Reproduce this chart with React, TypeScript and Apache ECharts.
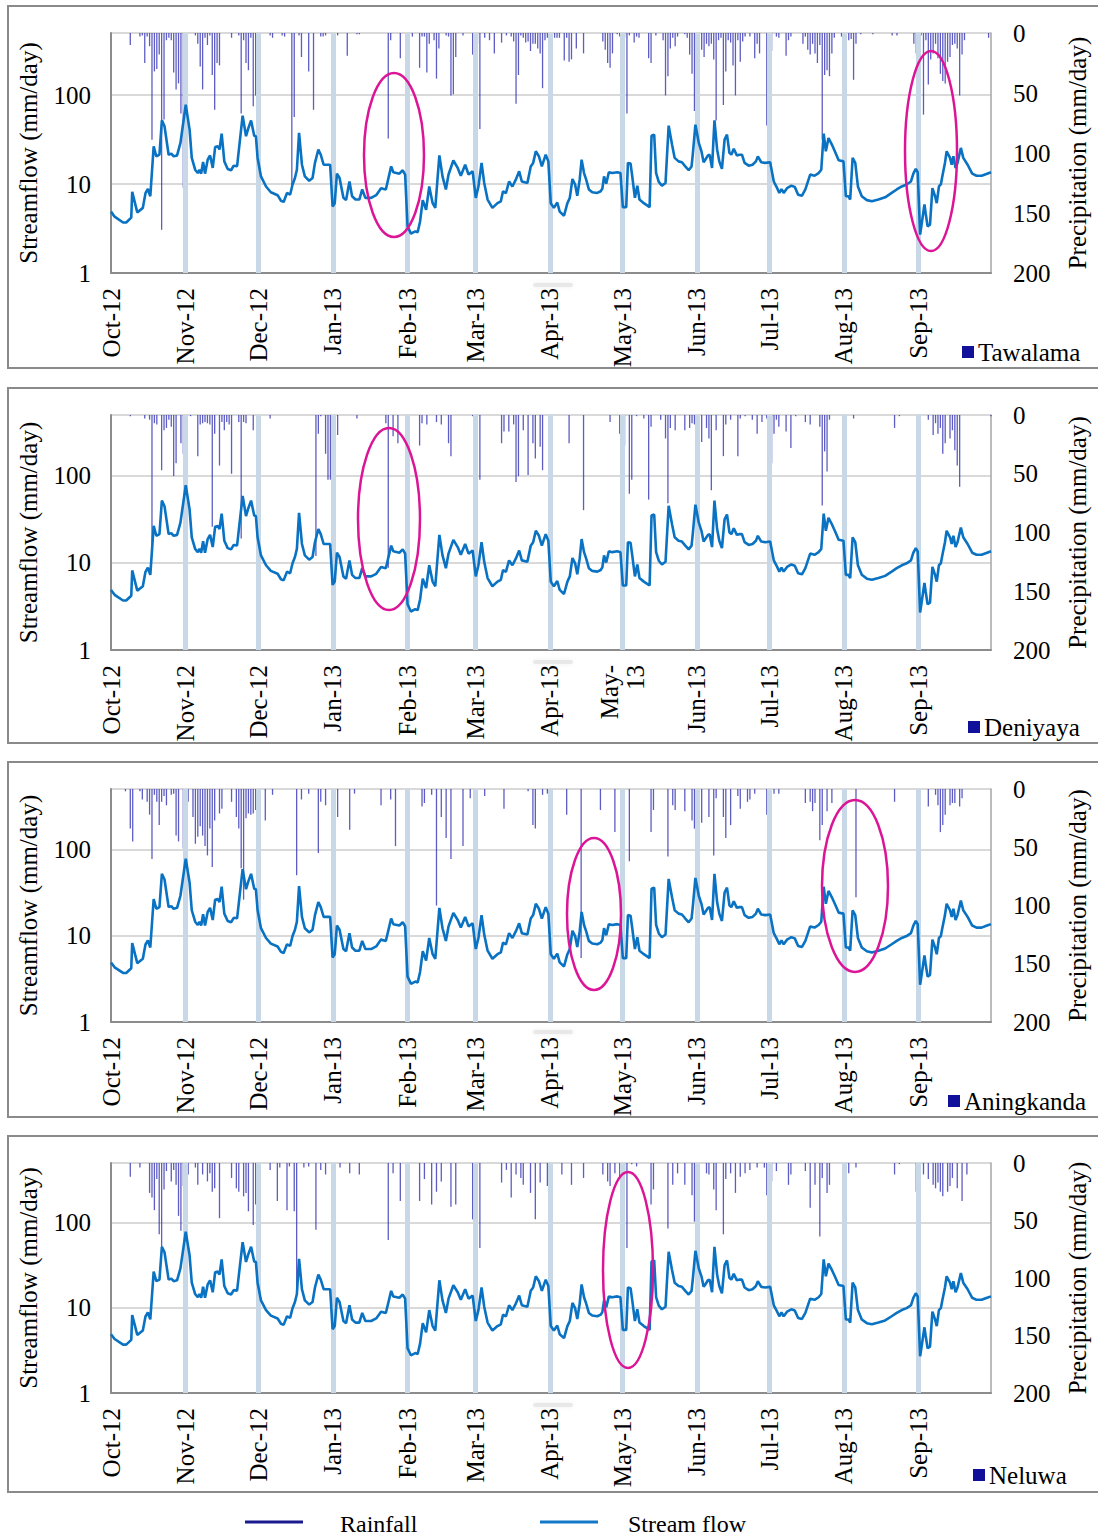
import React, { useEffect, useRef } from "react";
import * as echarts from "echarts";

const SERIF = '"Liberation Serif", "Times New Roman", serif';
const FS = 25;

// x axis: days since 1 Oct 2012
const MONTH_DAYS = [0, 31, 61, 92, 123, 151, 182, 212, 243, 273, 304, 335];
const MONTH_LABELS = ["Oct-12", "Nov-12", "Dec-12", "Jan-13", "Feb-13", "Mar-13", "Apr-13", "May-13", "Jun-13", "Jul-13", "Aug-13", "Sep-13"];
const BAND_DAYS = [31, 61, 92, 123, 151, 182, 212, 243, 273, 304, 335];
const FLOW_TICKS = [1, 10, 100];

const STATIONS = ["Tawalama", "Deniyaya", "Aningkanda", "Neluwa"];

// Stream flow (mm/day), [day, value]
const FLOW: number[][] = [
  [0, 4.9], [1.5, 4.3], [5, 3.7], [6.3, 3.7], [8.4, 4.2], [8.8, 8.2], [10.9, 4.8], [13.2, 5.4], [14.3, 7.9], [15.3, 8.8], [16.3, 7.3], [17.7, 26.6], [18.8, 20.5], [20.1, 21.4], [21.1, 52], [22.2, 44.7], [23.9, 21.4], [25, 22], [26, 20.5], [27.4, 21], [28.8, 29], [31, 78], [32.6, 41], [33.5, 19.7], [34.9, 14.5], [36, 13.3], [36.7, 14.5], [37.4, 13.1], [38.2, 17.7], [39, 13.1], [40.1, 18.8], [41.1, 21], [42.2, 15.2], [43.2, 26.1], [44.3, 26.6], [45, 24.5], [45.9, 36.9], [47, 18], [48.4, 14.8], [49.8, 14.3], [50.9, 16.1], [52.3, 15.9], [53.5, 31.6], [54.6, 58.9], [56, 34.5], [57, 42.8], [58.1, 52], [59.4, 35], [60.1, 34.5], [60.8, 19.7], [62.2, 12.2], [64.3, 9.4], [66.3, 8.1], [69.1, 7.5], [70.5, 6.5], [71.6, 6.3], [73, 7.95], [74.3, 7.6], [75.3, 9.9], [76.3, 11.7], [77.1, 14.5], [78, 37.6], [79.2, 16.5], [80.4, 12.2], [82.2, 10.9], [83.6, 11.7], [84.6, 17.3], [86, 24.5], [87, 21.4], [88.2, 16.5], [90.9, 16.5], [91.9, 5.6], [92.8, 6.1],
  [93.7, 13.1], [94.8, 11.7], [96.4, 7], [97.5, 6.6], [98.9, 10.7], [100, 7.3], [101.4, 6.7], [103, 6.7], [104.2, 8.7], [105.5, 7], [107.9, 7], [110, 7.5], [112, 9], [114, 8.7], [116.2, 15.8], [117.1, 13.6], [119.6, 13.1], [121, 14.3], [122, 12.8], [123, 3.35], [124.4, 2.77], [126.2, 2.94], [127.2, 2.87], [128.2, 3.8], [129.3, 6.6], [130.7, 5.15], [132, 9.4], [133.4, 6.1], [134.5, 5.4], [136.2, 21], [137.5, 12.2], [138.9, 8.7], [140, 12.8], [142, 18.4], [143.8, 15.2], [145.1, 12.4], [146.9, 16.5], [148.3, 12.8], [150, 13.9], [151.3, 7], [152.4, 9.4], [153.7, 17.3], [154.8, 10.3], [156.2, 6.7], [158.2, 5.4], [160.3, 6.1], [161.7, 6.4], [162.6, 8.3], [163.8, 7.9], [165.1, 10.7], [166.5, 9.4], [167.9, 11.2], [169.3, 13.9], [170.4, 10.7], [172.7, 10.3], [174.1, 15.8], [175.1, 17.3], [176.2, 23.4], [177.5, 20.5], [178.7, 15.8], [180.3, 21.4], [181.4, 18], [182.4, 6.1], [183.7, 5.4],
  [185.1, 6.2], [186.1, 4.9], [187.9, 4.4], [189.3, 6.1], [190.3, 7], [191.4, 11.4], [192.5, 9.9], [193.4, 7.4], [194.4, 11.2], [195.2, 18.8], [196.2, 13.3], [197.1, 11.2], [198.2, 8.7], [199.6, 8.1], [201.7, 7.95], [203.1, 8.3], [203.8, 8.9], [204.5, 12.2], [205.4, 10.1], [206.5, 13.6], [207.9, 13.3], [210, 13.6], [211.3, 13.3], [212.3, 5.5], [213.7, 5.5], [214.4, 17.3], [215.5, 17], [216.2, 12.2], [217.3, 7], [218.3, 9.6], [219.2, 6.7], [221, 6.1], [223.4, 5.5], [224.2, 35], [225.3, 36], [226.1, 13.3], [227.2, 10.6], [228.5, 9.6], [230, 10.3], [231.3, 45.4], [232.7, 27.8], [233.8, 19.7], [235.4, 18], [236.8, 17.6], [238.2, 15.8], [239.6, 14.3], [240.8, 15.8], [241.3, 21.4], [242.4, 46.6], [243.8, 29], [244.9, 23.4], [245.8, 17.6], [246.5, 18.8], [247.6, 21], [248.3, 21.4], [249.3, 15.2], [250.3, 52], [251.4, 24.5], [252.3, 18], [253.4, 14.8], [254.5, 31.6], [255.5, 36], [256.5, 22.5], [257.3, 21.4], [258.3, 25], [259.6, 21], [260.6, 21.4], [261.7, 21.4], [262.8, 17.3], [264.5, 16.1], [266.1, 16.5], [267.5, 18], [268.3, 20.5], [269.7, 17.6], [271.4, 17.3], [273.4, 17.6],
  [274.9, 10.7], [276.3, 9], [277.2, 7.95], [278.1, 8.8], [279, 7.95], [280.4, 9], [282.2, 9.6], [283.6, 9.3], [285, 7.6], [286.6, 7.4], [288, 8.7], [290, 12.8], [291.8, 12.4], [293.5, 13.3], [294.6, 14.5], [295.6, 36.9], [296.5, 23.4], [297.6, 33], [299, 27.8], [300.4, 22.8], [301.8, 18.5], [303.8, 18], [304.8, 7.3], [305.9, 7.3], [306.6, 6.7], [307.6, 19.7], [308.7, 17.3], [309.8, 9.4], [311.4, 7.3], [313.5, 6.6], [315.6, 6.4], [318.3, 6.7], [321.1, 7.1], [323.8, 7.95], [325.9, 8.7], [328, 9.4], [330, 9.9], [331.8, 10.7], [332.8, 13.1], [333.8, 14.8], [334.6, 13.6], [335.6, 2.7], [336.3, 3.65], [337.4, 5.9], [337.9, 4.7], [338.7, 3.35], [339.7, 3.5], [340.7, 9], [341.8, 7.3], [342.5, 6.1], [343.4, 9.4], [344.2, 9.9], [344.8, 12.2], [345.9, 17.3], [346.6, 23.4], [348, 19.7], [348.7, 16.5], [349.4, 20.5], [350.3, 15.2], [351.1, 17.3], [352.5, 25.5], [353.5, 19.7], [355.3, 16.5], [357.2, 13.1], [359, 12.4], [361.1, 12.4], [363.1, 13], [365, 13.6],
];

// Daily rainfall (mm/day), [day, value]
const RAIN_TAWALAMA: number[][] = [
  [8, 10], [12, 3], [13, 2], [14, 25], [15, 3], [16, 11], [17, 89], [18, 32], [19, 30], [20, 18], [21, 164], [22, 72], [23, 6], [24, 4], [25, 6], [26, 33], [27, 47], [28, 42], [29, 67], [30, 129], [31, 28], [35, 2], [36, 9], [37, 28], [38, 47], [39, 4], [40, 10], [41, 2], [42, 35], [43, 64], [44, 25], [45, 27], [50, 4], [53, 2], [54, 67], [55, 6], [56, 25], [57, 31], [58, 4], [59, 61], [60, 52], [66, 2], [67, 4], [71, 2], [72, 3], [75, 127], [76, 70], [78, 2], [79, 20], [82, 32], [84, 64], [87, 3], [88, 3], [89, 2], [92, 4], [93, 3], [94, 2], [98, 19], [102, 1], [103, 1], [115, 88], [116, 6], [120, 21], [125, 3], [128, 29], [129, 3], [130, 3], [131, 33], [132, 9], [134, 6], [135, 38], [136, 13], [139, 2], [140, 3], [141, 52], [142, 51], [143, 20], [146, 2], [150, 18], [151, 6], [152, 9], [153, 80], [155, 4], [157, 6], [159, 17], [162, 8], [164, 2], [166, 3], [167, 7], [168, 59], [169, 35], [170, 2], [171, 4], [172, 8], [173, 7], [174, 15], [175, 9], [176, 9], [177, 13], [178, 17], [179, 46], [180, 6], [181, 4], [182, 1], [184, 4], [185, 4], [186, 4], [188, 23], [189, 4], [190, 24], [191, 22], [193, 13], [196, 17], [204, 7], [205, 14], [206, 25], [207, 29], [208, 17], [210, 1], [211, 3], [212, 60], [213, 4], [214, 67], [215, 2], [217, 8], [218, 3], [219, 4], [223, 21], [224, 25], [226, 2], [229, 6], [230, 52], [231, 36], [232, 13], [233, 4], [234, 11], [235, 3], [238, 1], [239, 4], [240, 18], [241, 34], [242, 65], [243, 57], [244, 9], [245, 14], [246, 20], [247, 9], [248, 11], [249, 9], [250, 22], [251, 73], [252, 6], [253, 4], [254, 60], [255, 32], [256, 6], [257, 8], [258, 27], [259, 52], [260, 6], [261, 24], [262, 7], [263, 3], [265, 3], [267, 21], [268, 9], [269, 17], [272, 77], [273, 9], [274, 15], [276, 3], [277, 4], [280, 19], [281, 6], [282, 3], [287, 9], [288, 3], [289, 14], [290, 18], [291, 9], [292, 17], [293, 25], [294, 10], [295, 89], [296, 35], [297, 31], [298, 36], [299, 17], [300, 4], [303, 3], [304, 9], [305, 4], [306, 6], [307, 5], [308, 39], [309, 9], [311, 1], [316, 1], [324, 2], [326, 2], [333, 9], [334, 17], [336, 2], [337, 68], [338, 6], [339, 43], [340, 22], [341, 17], [342, 9], [343, 21], [344, 34], [345, 40], [346, 42], [347, 24], [348, 20], [349, 10], [350, 9], [351, 13], [352, 52], [353, 18], [354, 6], [364, 4],
];

const RAIN_DENIYAYA: number[][] = [
  [8, 1], [14, 3], [16, 4], [17, 110], [18, 7], [19, 8], [21, 47], [22, 13], [23, 11], [24, 4], [25, 10], [26, 52], [27, 41], [29, 24], [30, 33], [31, 7], [33, 1], [36, 35], [37, 8], [38, 7], [39, 6], [40, 7], [41, 8], [42, 95], [43, 16], [45, 43], [46, 6], [47, 13], [48, 6], [49, 8], [50, 50], [53, 6], [54, 105], [55, 6], [56, 7], [59, 13], [66, 3], [85, 120], [86, 16], [87, 1], [89, 33], [90, 55], [91, 55], [92, 50], [93, 67], [94, 17], [102, 3], [114, 7], [115, 130], [117, 18], [119, 24], [128, 26], [129, 7], [131, 8], [135, 6], [137, 8], [140, 24], [141, 35], [150, 1], [151, 38], [153, 55], [162, 24], [163, 14], [165, 14], [167, 8], [168, 57], [169, 52], [171, 13], [173, 51], [175, 24], [176, 37], [178, 27], [179, 47], [190, 24], [196, 81], [207, 6], [211, 16], [212, 16], [213, 26], [215, 67], [216, 55], [218, 1], [221, 3], [223, 72], [224, 10], [228, 4], [230, 20], [231, 75], [232, 11], [234, 13], [238, 13], [240, 11], [241, 7], [242, 8], [243, 41], [244, 38], [245, 23], [247, 11], [248, 20], [249, 64], [251, 13], [254, 35], [255, 8], [257, 4], [260, 35], [261, 3], [263, 1], [266, 4], [268, 16], [270, 6], [272, 3], [274, 41], [275, 16], [276, 4], [277, 10], [280, 14], [282, 28], [284, 1], [288, 6], [290, 8], [294, 10], [295, 77], [296, 31], [297, 48], [298, 4], [308, 3], [325, 11], [327, 1], [339, 4], [341, 17], [342, 7], [343, 16], [344, 11], [345, 33], [346, 24], [348, 20], [349, 13], [350, 30], [351, 43], [352, 61], [365, 1],
];

const RAIN_ANINGKANDA: number[][] = [
  [6, 2], [8, 34], [9, 45], [12, 2], [13, 9], [15, 11], [16, 22], [17, 60], [18, 5], [19, 11], [20, 31], [21, 11], [22, 6], [23, 14], [25, 5], [26, 4], [27, 40], [28, 45], [30, 51], [31, 19], [32, 11], [34, 24], [35, 47], [36, 41], [37, 32], [38, 40], [39, 49], [40, 57], [41, 34], [42, 67], [43, 27], [45, 21], [46, 17], [50, 11], [52, 24], [53, 34], [54, 68], [55, 95], [56, 25], [57, 21], [58, 22], [59, 21], [60, 18], [64, 27], [67, 5], [77, 74], [79, 9], [82, 4], [86, 55], [87, 11], [89, 14], [93, 31], [94, 24], [99, 35], [101, 4], [112, 14], [116, 9], [118, 49], [129, 15], [130, 12], [133, 5], [135, 100], [137, 24], [139, 42], [141, 60], [146, 49], [149, 8], [151, 6], [155, 6], [163, 17], [173, 2], [175, 31], [176, 34], [179, 5], [181, 4], [189, 22], [195, 145], [203, 18], [209, 37], [212, 9], [215, 62], [224, 37], [225, 18], [231, 58], [233, 14], [234, 18], [238, 19], [241, 27], [242, 34], [243, 34], [245, 29], [248, 24], [250, 57], [251, 8], [254, 24], [255, 42], [257, 31], [260, 6], [261, 17], [264, 11], [265, 9], [267, 4], [272, 22], [275, 4], [277, 4], [288, 12], [290, 11], [291, 19], [292, 12], [294, 44], [295, 31], [297, 19], [299, 12], [309, 93], [325, 11], [339, 15], [342, 5], [343, 14], [344, 37], [345, 31], [346, 22], [348, 14], [349, 12], [350, 12], [352, 15], [353, 8],
];

const RAIN_NELUWA: number[][] = [
  [8, 12], [12, 4], [16, 26], [17, 30], [18, 41], [19, 14], [20, 62], [21, 74], [22, 23], [23, 7], [25, 16], [26, 6], [27, 19], [28, 46], [29, 59], [30, 20], [32, 10], [35, 4], [36, 19], [38, 10], [40, 16], [41, 9], [42, 25], [43, 22], [45, 48], [50, 13], [52, 22], [53, 25], [55, 29], [56, 26], [57, 42], [59, 54], [60, 36], [66, 6], [69, 33], [70, 4], [73, 41], [74, 3], [76, 42], [77, 110], [80, 4], [82, 3], [85, 58], [87, 6], [89, 10], [93, 38], [95, 4], [99, 9], [103, 10], [115, 67], [117, 9], [120, 33], [128, 33], [130, 14], [133, 36], [135, 25], [137, 16], [141, 38], [143, 36], [150, 49], [151, 13], [153, 74], [162, 17], [164, 6], [166, 30], [168, 10], [170, 13], [171, 19], [174, 26], [176, 49], [178, 17], [181, 20], [182, 13], [187, 10], [191, 19], [196, 13], [204, 10], [206, 16], [207, 20], [209, 9], [211, 13], [213, 9], [214, 74], [216, 1], [218, 3], [224, 36], [225, 23], [231, 57], [233, 19], [235, 9], [238, 19], [241, 28], [242, 51], [243, 49], [244, 39], [247, 9], [248, 10], [250, 23], [251, 41], [254, 62], [255, 14], [257, 9], [259, 26], [261, 12], [263, 9], [265, 6], [268, 4], [271, 4], [272, 28], [274, 16], [276, 7], [281, 19], [282, 10], [288, 7], [290, 39], [292, 19], [294, 64], [295, 13], [297, 26], [298, 19], [306, 9], [309, 4], [325, 10], [327, 1], [334, 25], [335, 14], [337, 10], [339, 14], [341, 19], [342, 22], [343, 17], [344, 25], [345, 29], [347, 25], [348, 20], [349, 13], [351, 22], [353, 33], [355, 10],
];

const RAINS = [RAIN_TAWALAMA, RAIN_DENIYAYA, RAIN_ANINGKANDA, RAIN_NELUWA];

// layout (pixels)
const PANELS = [
  { top: 33, h: 240, frameTop: 6, frameH: 362, tagX: 962, tagY: 352, smudgeY: 285 },
  { top: 415, h: 235, frameTop: 388, frameH: 355, tagX: 968, tagY: 727, smudgeY: 662 },
  { top: 789, h: 233, frameTop: 762, frameH: 355, tagX: 948, tagY: 1101, smudgeY: 1032 },
  { top: 1163, h: 230, frameTop: 1136, frameH: 356, tagX: 973, tagY: 1475, smudgeY: 1405 },
];

const ELLIPSES = [
  { cx: 394, cy: 155, rx: 30, ry: 82 },
  { cx: 931, cy: 151, rx: 26, ry: 100 },
  { cx: 389, cy: 519, rx: 31, ry: 91 },
  { cx: 594, cy: 914, rx: 27, ry: 76 },
  { cx: 855, cy: 886, rx: 33, ry: 86 },
  { cx: 628, cy: 1270, rx: 25, ry: 98 },
];

function monthLabel(panel: number, v: number) {
  const i = MONTH_DAYS.indexOf(Math.round(v));
  if (i < 0) return "";
  const s = MONTH_LABELS[i];
  if (panel === 1 && s === "May-13") return "May-\n13";
  return s;
}

export default function App() {
  const ref = useRef<HTMLDivElement>(null);
  useEffect(() => {
    if (!ref.current) return;
    const chart = echarts.init(ref.current, undefined, { renderer: "svg" });
    const grid: any[] = [];
    const xAxis: any[] = [];
    const yAxis: any[] = [];
    const series: any[] = [];
    const graphic: any[] = [];
    const axisColor = "#8c8c8c";
    const labelStyle = { fontFamily: SERIF, fontSize: FS, color: "#000" };

    PANELS.forEach((p, i) => {
      grid.push({ left: 111, top: p.top, width: 882, height: p.h });
      xAxis.push({
        gridIndex: i, type: "value", min: 0, max: 365,
        axisLine: { show: true, onZero: false, lineStyle: { color: axisColor, width: 2 } },
        axisTick: { show: false }, splitLine: { show: false },
        axisLabel: { ...labelStyle, customValues: MONTH_DAYS, rotate: 90, margin: 15, lineHeight: 26, formatter: (v: number) => monthLabel(i, v) },
      });
      yAxis.push({
        gridIndex: i, type: "log", logBase: 10, min: 1, max: 500, position: "left",
        axisLine: { show: true, lineStyle: { color: axisColor, width: 2 } },
        axisTick: { show: false },
        splitLine: { show: true, lineStyle: { color: "#d9d9d9", width: 2 } },
        axisLabel: {
          ...labelStyle, margin: 20, showMaxLabel: false,
          formatter: (v: number) => (FLOW_TICKS.indexOf(Math.round(v)) >= 0 ? String(Math.round(v)) : ""),
        },
        name: "Streamflow (mm/day)", nameLocation: "middle", nameRotate: 90, nameGap: 70,
        nameTextStyle: { ...labelStyle },
      });
      yAxis.push({
        gridIndex: i, type: "value", min: 0, max: 200, interval: 50, inverse: true, position: "right",
        axisLine: { show: true, lineStyle: { color: "#a6a6a6", width: 1.5 } },
        axisTick: { show: false }, splitLine: { show: false },
        axisLabel: { ...labelStyle, margin: 22 },
        name: "Precipitation (mm/day)", nameLocation: "middle", nameRotate: 90, nameGap: 74,
        nameTextStyle: { ...labelStyle },
      });
      series.push({
        type: "bar", xAxisIndex: i, yAxisIndex: 2 * i + 1, data: RAINS[i], barWidth: 1.3,
        itemStyle: { color: "rgba(48,48,178,0.78)" }, silent: true, z: 2,
        markLine: {
          silent: true, symbol: ["none", "none"], label: { show: false },
          lineStyle: { color: "#c9d8e7", width: 5, type: "solid", opacity: 1 },
          data: BAND_DAYS.map((d) => ({ xAxis: d })),
        },
      });
      series.push({
        type: "line", xAxisIndex: i, yAxisIndex: 2 * i, data: FLOW, showSymbol: false, symbol: "none",
        lineStyle: { color: "#0a72c2", width: 2.6 }, itemStyle: { color: "#0a72c2" }, silent: true, z: 5,
      });

      graphic.push({
        type: "rect", shape: { x: 8, y: p.frameTop, width: 1110, height: p.frameH },
        style: { fill: "none", stroke: "#8a8a8a", lineWidth: 2 }, silent: true, z: 1,
      });
      graphic.push({
        type: "rect", shape: { x: 533, y: p.smudgeY - 2, width: 40, height: 4, r: 2 },
        style: { fill: "rgba(220,220,220,0.55)", shadowBlur: 5, shadowColor: "rgba(215,215,215,0.7)" }, silent: true,
      });
      graphic.push({
        type: "rect", shape: { x: p.tagX, y: p.tagY - 6, width: 12, height: 12 },
        style: { fill: "#10109a" }, silent: true,
      });
      graphic.push({
        type: "text", x: p.tagX + 16, y: p.tagY,
        style: { text: STATIONS[i], fontFamily: SERIF, fontSize: FS, fill: "#000", align: "left", verticalAlign: "middle" },
        silent: true,
      });
    });

    ELLIPSES.forEach((e) => {
      graphic.push({
        type: "ellipse", shape: { cx: e.cx, cy: e.cy, rx: e.rx, ry: e.ry },
        style: { fill: "none", stroke: "#dc1597", lineWidth: 2.5 }, silent: true, z: 100,
      });
    });

    // legend
    graphic.push({ type: "line", shape: { x1: 245, y1: 1522, x2: 303, y2: 1522 }, style: { stroke: "#1a1a8e", lineWidth: 3 }, silent: true });
    graphic.push({ type: "text", x: 340, y: 1524, style: { text: "Rainfall", fontFamily: SERIF, fontSize: 24, fill: "#000", align: "left", verticalAlign: "middle" }, silent: true });
    graphic.push({ type: "line", shape: { x1: 540, y1: 1522, x2: 598, y2: 1522 }, style: { stroke: "#1478c8", lineWidth: 3 }, silent: true });
    graphic.push({ type: "text", x: 628, y: 1524, style: { text: "Stream flow", fontFamily: SERIF, fontSize: 24, fill: "#000", align: "left", verticalAlign: "middle" }, silent: true });

    chart.setOption({
      animation: false,
      backgroundColor: "#ffffff",
      textStyle: { fontFamily: SERIF },
      grid, xAxis, yAxis, series, graphic,
    });
    return () => chart.dispose();
  }, []);
  return <div ref={ref} style={{ position: "absolute", left: 0, top: 0, width: 1098, height: 1538 }} />;
}
